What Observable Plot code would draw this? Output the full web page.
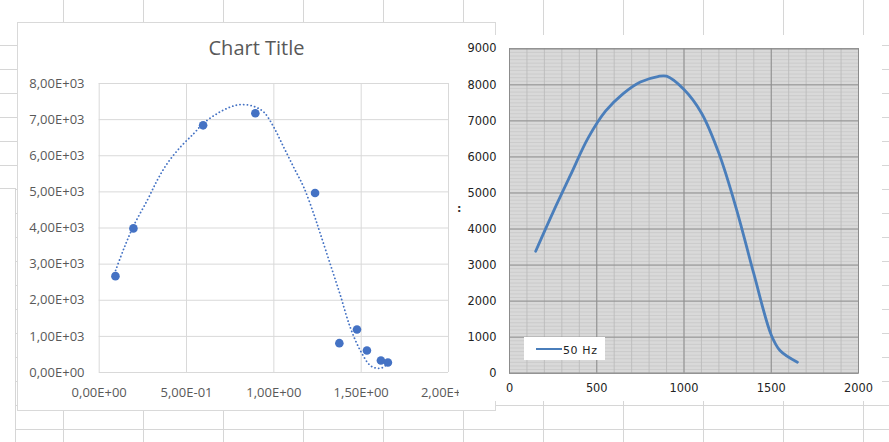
<!DOCTYPE html>
<html><head><meta charset="utf-8">
<script src="https://cdn.jsdelivr.net/npm/d3@7"></script>
<script src="https://cdn.jsdelivr.net/npm/@observablehq/plot@0.6"></script>
<style>
html,body{margin:0;padding:0;background:#fff;}
#root{position:relative;width:889px;height:442px;overflow:hidden;background-color:#fff;
 background-image:linear-gradient(to right,#d6d6d6 1px,transparent 1px);background-size:80px 100%;background-position:63px 0;}
#rows{position:absolute;left:0;top:22px;width:889px;height:420px;
 background-image:linear-gradient(to bottom,#d6d6d6 1px,transparent 1px);background-size:100% 24px;background-position:0 23px;}
.abs{position:absolute;}
#blank{left:-2px;top:188px;width:18px;height:270px;box-sizing:border-box;border:1px solid #d6d6d6;background:#fff;}
#lframe{left:17px;top:22px;width:479px;height:389px;box-sizing:border-box;border:1px solid #d9d9d9;background:#fff;}
#ltitle{left:17px;top:38px;width:479px;text-align:center;font:20px/20px "Open Sans",sans-serif;color:#595959;}
#lplot{left:17px;top:60px;width:478px;height:350px;}
#rframe{left:459px;top:35px;width:423px;height:366px;background:#fff;}
#rplot{left:459px;top:35px;width:423px;height:366px;}
#legend{left:524px;top:337px;width:81px;height:23px;background:#fff;}
#legline{left:12px;top:10.5px;width:26px;height:2.6px;background:#4a7ebb;}
#legtext{left:39px;top:6.5px;font:11px/13px "DejaVu Sans",sans-serif;letter-spacing:0.6px;color:#222;white-space:nowrap;}
#ymark{left:457px;top:202px;font:bold 11px/13px "DejaVu Sans",sans-serif;color:#333;}
svg{overflow:visible;}
</style></head>
<body>
<div id="root">
  <div id="rows"></div>
  <div id="blank" class="abs"></div>
  <div id="lframe" class="abs"></div>
  <div id="ltitle" class="abs">Chart Title</div>
  <div id="lplot" class="abs"></div>
  <div id="rframe" class="abs"></div>
  <div id="rplot" class="abs"></div>
  <div id="ymark" class="abs">:</div>
  <div id="legend" class="abs"><div id="legline" class="abs"></div><div id="legtext" class="abs">50 Hz</div></div>
</div>
<script>
// ---- Left chart (scatter + polynomial trendline) ----
const leftX = [0.093, 0.196, 0.595, 0.894, 1.236, 1.375, 1.476, 1.533, 1.613, 1.653];
const leftY = [2667, 3989, 6842, 7175, 4967, 812, 1191, 609, 332, 277];
const trendX = [0.094, 0.141, 0.198, 0.275, 0.332, 0.389, 0.465, 0.541, 0.595, 0.675, 0.751, 0.812, 0.884, 0.942, 0.999, 1.056, 1.113, 1.171, 1.228, 1.266, 1.323, 1.380, 1.437, 1.495, 1.552, 1.590, 1.625, 1.653];
const trendY = [2826, 3427, 4072, 4765, 5319, 5781, 6241, 6612, 6889, 7166, 7349, 7416, 7368, 7211, 6795, 6241, 5687, 5133, 4396, 3842, 3000, 2150, 1255, 609, 194, 120, 140, 260];
const leftXTicks = [0, 0.5, 1, 1.5, 2];
const leftXLabels = ["0,00E+00", "5,00E-01", "1,00E+00", "1,50E+00", "2,00E+00"];
const leftYTicks = [0, 1000, 2000, 3000, 4000, 5000, 6000, 7000, 8000];
const leftYLabels = ["0,00E+00", "1,00E+03", "2,00E+03", "3,00E+03", "4,00E+03", "5,00E+03", "6,00E+03", "7,00E+03", "8,00E+03"];

// ---- Right chart (50 Hz curve) ----
const rightX = [150, 250, 350, 450, 550, 650, 750, 850, 900, 1000, 1100, 1200, 1300, 1400, 1500, 1550, 1650];
const rightY = [3385, 4470, 5500, 6520, 7270, 7750, 8080, 8230, 8240, 7870, 7220, 6100, 4560, 2760, 1060, 630, 305];
const rightXTicks = [0, 500, 1000, 1500, 2000];
const rightYTicks = [0, 1000, 2000, 3000, 4000, 5000, 6000, 7000, 8000, 9000];
const seriesName = "50 Hz";

const points = leftX.map((x, i) => ({x, y: leftY[i]}));
const trend = trendX.map((x, i) => ({x, y: trendY[i]}));
const curve = rightX.map((x, i) => ({x, y: rightY[i]}));

const left = Plot.plot({
  width: 478, height: 350,
  marginLeft: 81.7, marginRight: 47, marginTop: 23, marginBottom: 38,
  style: {fontFamily: "Open Sans, sans-serif", fontSize: "13px", color: "#595959", background: "transparent", overflow: "visible"},
  x: {domain: [0, 2]},
  y: {domain: [0, 8000]},
  marks: [
    Plot.gridX({ticks: leftXTicks, stroke: "#d9d9d9", strokeOpacity: 1}),
    Plot.gridY({ticks: leftYTicks, stroke: "#d9d9d9", strokeOpacity: 1}),
    Plot.line(trend, {x: "x", y: "y", curve: "catmull-rom", stroke: "#4472c4", strokeWidth: 1.8, strokeDasharray: "0.1 3.6", strokeLinecap: "round"}),
    Plot.dot(points, {x: "x", y: "y", r: 4.3, fill: "#4472c4", stroke: "none"}),
    Plot.axisX({ticks: leftXTicks, tickSize: 0, tickPadding: 15.5, tickFormat: d => leftXLabels[leftXTicks.indexOf(d)], label: null}),
    Plot.axisY({ticks: leftYTicks, tickSize: 0, tickPadding: 14.7, tickFormat: d => leftYLabels[leftYTicks.indexOf(d)], label: null})
  ]
});
document.getElementById("lplot").appendChild(left);

const right = Plot.plot({
  width: 423, height: 366,
  marginLeft: 50, marginRight: 24, marginTop: 13.3, marginBottom: 28.3,
  style: {fontFamily: "DejaVu Sans, sans-serif", fontSize: "11.4px", color: "#222", background: "transparent", overflow: "visible"},
  x: {domain: [0, 2000]},
  y: {domain: [0, 9000]},
  marks: [
    Plot.frame({fill: "#d9d9d9", stroke: null}),
    Plot.gridY({ticks: d3.range(0, 9001, 100), stroke: "#c2c2c2", strokeOpacity: 1, strokeWidth: 0.6}),
    Plot.gridX({ticks: d3.range(0, 2001, 100), stroke: "#bbbbbb", strokeOpacity: 1, strokeWidth: 0.9}),
    Plot.gridY({ticks: rightYTicks, stroke: "#8f8f8f", strokeOpacity: 1, strokeWidth: 1}),
    Plot.gridX({ticks: rightXTicks, stroke: "#8f8f8f", strokeOpacity: 1, strokeWidth: 1}),
    Plot.frame({stroke: "#8c8c8c"}),
    Plot.line(curve, {x: "x", y: "y", curve: "catmull-rom", stroke: "#4a7ebb", strokeWidth: 2.8}),
    Plot.axisX({ticks: rightXTicks, tickSize: 0, tickPadding: 11, label: null, tickFormat: d => String(d)}),
    Plot.axisY({ticks: rightYTicks, tickSize: 0, tickPadding: 13, label: null, tickFormat: d => String(d)})
  ]
});
document.getElementById("rplot").appendChild(right);
document.getElementById("legtext").textContent = seriesName;
</script>
</body></html>
